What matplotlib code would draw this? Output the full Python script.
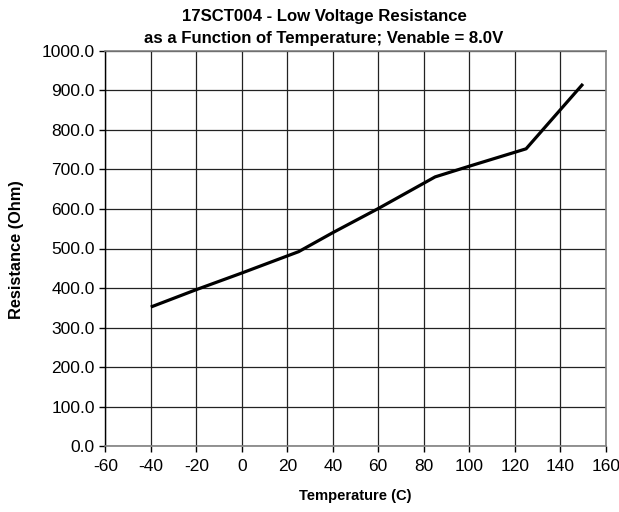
import matplotlib.pyplot as plt

plt.rcParams['font.family'] = ['Liberation Sans', 'DejaVu Sans']
plt.rcParams['axes.unicode_minus'] = False

# temperature sweep (C) and measured resistance (Ohm)
temperature = [-40, -20, 0, 25, 40, 60, 85, 100, 125, 150]
resistance = [352, 396, 438, 492, 540, 601, 681, 708, 752, 916]

x_ticks = list(range(-60, 161, 20))
y_ticks = list(range(0, 1001, 100))

fig = plt.figure(figsize=(6.19, 5.12), dpi=100)
ax = fig.add_axes([105.3 / 619, 1 - 446.3 / 512, (605.7 - 105.3) / 619, (446.3 - 50.7) / 512])

ax.plot(temperature, resistance, color='black', lw=2.3, solid_capstyle='butt', zorder=3)

ax.set_xlim(-60, 160)
ax.set_ylim(0, 1000)
ax.set_xticks(x_ticks)
ax.set_yticks(y_ticks)
ax.set_yticklabels(['%.1f' % v for v in y_ticks])
ax.grid(True, color='#222222', lw=0.9)
ax.set_axisbelow(True)

for side in ['top', 'right', 'bottom']:
    ax.spines[side].set_color('#808080')
    ax.spines[side].set_linewidth(1.2)
ax.spines['left'].set_color('black')
ax.spines['left'].set_linewidth(1.0)

ax.tick_params(axis='both', direction='out', length=4.5, width=1.0, labelsize=12.5, colors='black')
ax.tick_params(axis='x', pad=5)
ax.tick_params(axis='y', pad=3)

title_x = 324 / 619
fig.text(title_x, 1 - 17 / 512, '17SCT004 - Low Voltage Resistance', ha='center', va='center',
         fontsize=12.1, fontweight='bold')
fig.text(title_x, 1 - 38 / 512, 'as a Function of Temperature; Venable = 8.0V', ha='center', va='center',
         fontsize=12.1, fontweight='bold')
fig.text((105.3 + 605.7) / 2 / 619, 1 - 496 / 512, 'Temperature (C)', ha='center', va='center',
         fontsize=10.6, fontweight='bold')
fig.text(17 / 619, 1 - 250 / 512, 'Resistance (Ohm)', ha='center', va='center', rotation=90,
         fontsize=11.8, fontweight='bold')

fig.savefig('out.png', dpi=100)
